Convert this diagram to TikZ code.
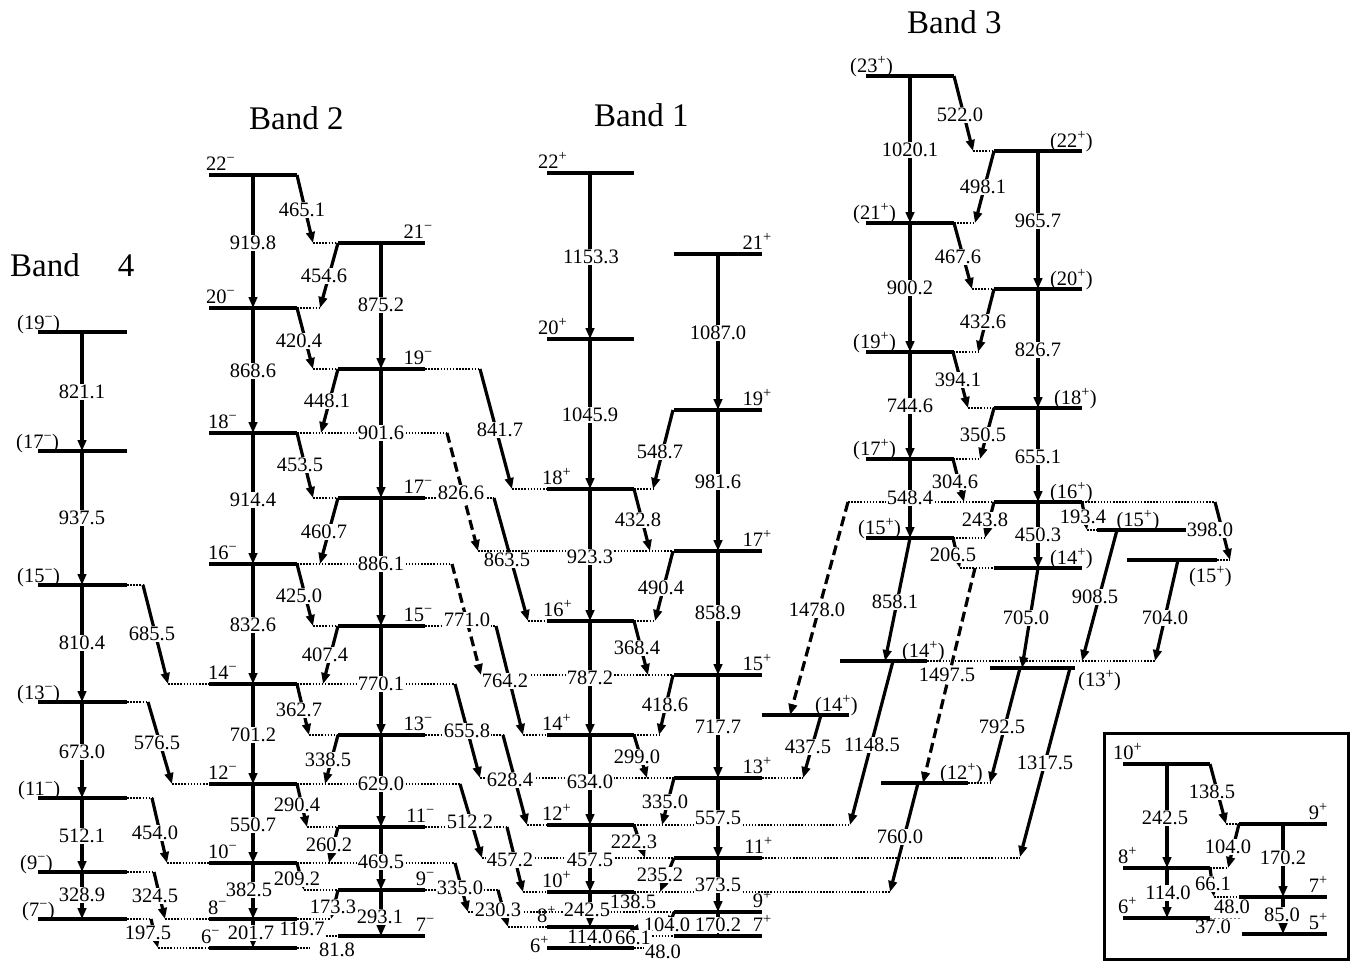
\documentclass[tikz,border=0pt]{standalone}
\usepackage{fontspec}
\setmainfont{Liberation Serif}
\usetikzlibrary{arrows.meta}
\newcommand\spm[1]{#1\textsuperscript{−}}
\newcommand\spp[1]{#1\textsuperscript{+}}
\begin{document}
\begin{tikzpicture}[x=1pt,y=-1pt,
  lev/.style={line width=3.8pt},
  tr/.style={line width=3.2pt,-{Triangle[length=11pt,width=8.5pt]}},
  trd/.style={tr,dash pattern=on 10pt off 5pt},
  seg/.style={line width=3.2pt},
  dot/.style={line width=1.8pt,dash pattern=on 1.5pt off 1.6pt},
  ldot/.style={line width=1pt,gray,dash pattern=on 2pt off 2pt},
  lab/.style={fill=white,inner sep=1pt,font=\fontsize{20.5}{21}\selectfont},
  llab/.style={anchor=base west,inner sep=0pt,font=\fontsize{20.5}{21}\selectfont},
  rlab/.style={anchor=base east,inner sep=0pt,font=\fontsize{20.5}{21}\selectfont},
  clab/.style={anchor=base,inner sep=0pt,font=\fontsize{20.5}{21}\selectfont},
  band/.style={anchor=base west,inner sep=0pt,font=\fontsize{33}{36}\selectfont}]
\useasboundingbox (0,0) rectangle (1352,962);

% ---------------- dotted extensions ----------------
\foreach \a/\b/\y in {127/143/585,168/209/684,127/148/702,172/209/784,127/152/798,167/209/863,
  127/154/872,165/209/919,127/151/919,158/209/948,
  313/338/243,297/320/308,313/338/369,425/480/369,297/447/433,313/338/498,425/494/498,
  297/452/564,313/338/626,425/496/626,297/455/684,309/338/735,425/503/735,
  297/460/784,307/338/827,425/507/827,297/455/863,304/338/890,425/498/890,
  297/331/919,297/310/948,326/337/936,
  512/547/489,634/653/489,478/673/551,528/547/621,634/655/621,481/673/675,
  523/547/735,634/659/735,480/674/778,762/803/778,527/547/825,634/850/825,
  482/674/858,762/1020/858,523/547/892,634/890/892,468/674/912,508/547/927,
  640/673/936,634/672/948,
  973/994/151,954/975/223,972/994/289,953/978/352,968/994/408,953/980/459,
  848/994/502,1082/1215/502,953/985/538,960/994/568,1087/1097/530,1217/1230/560,
  927/1155/661,968/990/783,
  1226/1239/824,1210/1228/868,1214/1239/897}
  \draw[dot] (\a,\y) -- (\b,\y);
\draw[ldot] (1210,918) -- (1242,918);

% ---------------- levels ----------------
\foreach \y in {332,451,585,702,798,872,919} \draw[lev] (38,\y) -- (127,\y);
\foreach \y in {175,308,433,564,684,784,863,919,948} \draw[lev] (209,\y) -- (297,\y);
\foreach \y in {243,369,498,626,735,827,890,936} \draw[lev] (338,\y) -- (425,\y);
\foreach \y in {173,339,489,621,735,825,892,927,948} \draw[lev] (547,\y) -- (634,\y);
\foreach \y in {254,410,551,675,778,858,912,936} \draw[lev] (674,\y) -- (762,\y);
\foreach \y in {76,223,352,459,538} \draw[lev] (866,\y) -- (954,\y);
\foreach \y in {151,289,408,502,568} \draw[lev] (994,\y) -- (1082,\y);
\draw[lev] (1097,530) -- (1187,530);
\draw[lev] (1127,560) -- (1217,560);
\draw[lev] (840,661) -- (927,661);
\draw[lev] (990,668) -- (1075,668);
\draw[lev] (762,715) -- (849,715);
\draw[lev] (881,783) -- (968,783);
% inset
\draw[line width=3pt] (1104,733) rectangle (1348,959);
\foreach \y in {764,868,918} \draw[lev] (1123,\y) -- (1210,\y);
\foreach \y in {824,897} \draw[lev] (1239,\y) -- (1327,\y);
\draw[lev] (1242,934) -- (1327,934);

% ---------------- vertical transitions ----------------
\foreach \a/\b in {332/451,451/585,585/702,702/798,798/872,872/919} \draw[tr] (82,\a) -- (82,\b);
\foreach \a/\b in {175/308,308/433,433/564,564/684,684/784,784/863,863/919,919/948} \draw[tr] (253,\a) -- (253,\b);
\foreach \a/\b in {243/369,369/498,498/626,626/735,735/827,827/890,890/936} \draw[tr] (381,\a) -- (381,\b);
\foreach \a/\b in {173/339,339/489,489/621,621/735,735/825,825/892,892/927,927/948} \draw[tr] (590,\a) -- (590,\b);
\foreach \a/\b in {254/410,410/551,551/675,675/778,778/858,858/912,912/936} \draw[tr] (718,\a) -- (718,\b);
\foreach \a/\b in {76/223,223/352,352/459,459/538} \draw[tr] (910,\a) -- (910,\b);
\foreach \a/\b in {151/289,289/408,408/502,502/568} \draw[tr] (1038,\a) -- (1038,\b);
\draw[tr] (1167,764) -- (1167,868);
\draw[tr] (1167,868) -- (1167,918);
\draw[tr] (1283,824) -- (1283,897);
\draw[tr] (1283,897) -- (1283,934);

% ---------------- slanted transitions ----------------
\foreach \xa/\ya/\xb/\yb in {
  143/585/168/684, 148/702/172/784, 152/798/167/863, 154/872/165/919, 151/919/158/948,
  297/175/313/243, 338/243/320/308, 297/308/313/369, 338/369/321/433, 297/433/313/498,
  338/498/320/564, 297/564/313/626, 338/626/323/684, 297/684/309/735, 338/735/325/784,
  297/784/307/827, 338/827/329/863, 297/863/304/890, 338/890/331/919,
  480/369/512/489, 494/498/528/621, 496/626/523/735, 455/684/480/778, 503/735/527/825,
  460/784/482/858, 507/827/523/892, 455/863/468/912, 498/890/508/927,
  673/410/653/489, 634/489/650/551, 673/551/655/621, 634/621/648/675, 673/675/659/735,
  634/735/647/778, 674/778/662/825, 634/825/645/858, 674/858/660/892, 634/892/640/912,
  674/912/669/927, 634/927/640/936,
  954/76/973/151, 994/151/975/223, 954/223/972/289, 994/289/978/352, 953/352/968/408,
  994/408/980/459, 953/459/964/502, 994/502/985/538, 953/538/960/568, 1082/502/1087/530,
  1215/502/1230/560,
  821/715/803/778, 910/538/885/661, 893/661/850/825, 1038/568/1022/668, 1117/530/1082/661,
  1178/560/1155/661, 1020/668/990/783, 1070/668/1020/857, 918/783/890/892,
  1210/764/1226/824, 1239/824/1228/868, 1210/868/1214/897}
  \draw[tr] (\xa,\ya) -- (\xb,\yb);
\draw[trd] (447,433) -- (478,551);
\draw[trd] (452,564) -- (481,675);
\draw[trd] (848,502) -- (790,715);
\draw[trd] (975,568) -- (923,783);

% ---------------- transition labels ----------------
\foreach \t/\x/\y in {
  821.1/82/392, 937.5/82/518, 810.4/82/643, 673.0/82/752, 512.1/82/836, 328.9/82/895,
  685.5/152/634, 576.5/157/743, 454.0/155/833, 324.5/155/896, 197.5/148/933,
  919.8/253/243, 868.6/253/371, 914.4/253/500, 832.6/253/625, 701.2/253/735, 550.7/253/825,
  382.5/249/890, 201.7/251/933,
  875.2/381/305, 901.6/381/433, 886.1/381/564, 770.1/381/684, 629.0/381/784, 469.5/381/862,
  293.1/380/917,
  465.1/302/210, 454.6/324/276, 420.4/299/341, 448.1/327/401, 453.5/300/465, 460.7/324/532,
  425.0/299/596, 407.4/325/655, 362.7/299/710, 338.5/328/760, 290.4/297/805, 260.2/329/845,
  209.2/297/879, 173.3/333/907, 119.7/302/929, 81.8/337/950,
  841.7/500/430, 826.6/461/493, 863.5/507/560, 771.0/467/620, 764.2/505/681, 655.8/467/731,
  628.4/510/780, 512.2/470/822, 457.2/510/860, 335.0/460/888, 230.3/498/910,
  1153.3/591/257, 1045.9/590/415, 923.3/590/557, 787.2/590/678, 634.0/590/782, 457.5/590/860,
  242.5/587/910, 114.0/590/937,
  1087.0/718/333, 981.6/718/482, 858.9/718/613, 717.7/718/727, 557.5/718/818, 373.5/718/885,
  170.2/718/925,
  548.7/660/452, 432.8/638/520, 490.4/661/588, 368.4/637/648, 418.6/665/705, 299.0/637/757,
  335.0/665/802, 222.3/634/842, 235.2/660/875, 138.5/633/902, 104.0/667/925, 66.1/633/938,
  48.0/663/952,
  1020.1/910/150, 900.2/910/288, 744.6/910/406, 548.4/910/498,
  965.7/1038/221, 826.7/1038/350, 655.1/1038/457, 450.3/1038/535,
  522.0/960/115, 498.1/983/187, 467.6/958/257, 432.6/983/322, 394.1/958/380, 350.5/983/435,
  304.6/955/482, 243.8/985/520, 206.5/953/555, 193.4/1083/517, 398.0/1210/530,
  1478.0/817/610, 858.1/895/602, 705.0/1026/618, 908.5/1095/597, 704.0/1165/618,
  1497.5/947/675, 437.5/808/747, 1148.5/872/745, 792.5/1002/727, 1317.5/1045/763, 760.0/900/837,
  242.5/1165/818, 138.5/1212/792, 104.0/1228/847, 170.2/1283/858, 114.0/1168/893,
  66.1/1213/884, 85.0/1282/915}
  \node[lab] at (\x,\y) {\t};
\node[lab,fill=none] (i480) at (1232,907) {48.0};
\node[lab,fill=none] (i370) at (1213,927) {37.0};

% ---------------- level labels ----------------
\foreach \t/\x/\y in {19/17/329, 17/16/448, 15/17/582, 13/17/699, 11/18/795, 9/20/869, 7/22/916}
  \node[llab] at (\x,\y) {(\spm{\t})};
\foreach \t/\x/\y in {22/206/170, 20/206/303, 18/208/428, 16/208/559, 14/208/679, 12/208/779,
  10/208/858, 8/208/914, 6/201/943}
  \node[llab] at (\x,\y) {\spm{\t}};
\foreach \t/\x/\y in {21/433/238, 19/433/364, 17/433/493, 15/433/621, 13/433/730, 11/435/822,
  9/435/885, 7/435/931}
  \node[rlab] at (\x,\y) {\spm{\t}};
\foreach \t/\x/\y in {22/538/168, 20/538/334, 18/542/484, 16/543/616, 14/542/730, 12/542/820,
  10/542/887, 8/537/922, 6/530/952}
  \node[llab] at (\x,\y) {\spp{\t}};
\foreach \t/\x/\y in {21/772/249, 19/772/405, 17/772/546, 15/772/670, 13/772/773, 11/773/853,
  9/772/907, 7/772/931}
  \node[rlab] at (\x,\y) {\spp{\t}};
\foreach \t/\x/\y in {23/850/72, 21/853/219, 19/853/348, 17/853/455, 15/858/534}
  \node[llab] at (\x,\y) {(\spp{\t})};
\foreach \t/\x/\y in {22/1093/147, 20/1093/285, 18/1097/404, 16/1093/498, 14/1093/564,
  14/945/657, 14/858/711, 12/983/779, 15/1232/582}
  \node[rlab] at (\x,\y) {(\spp{\t})};
\node[clab] at (1138,526) {(\spp{15})};
\node[llab] at (1078,686) {(\spp{13})};
% inset labels
\foreach \t/\x/\y in {10/1113/759, 8/1118/863, 6/1118/913}
  \node[llab] at (\x,\y) {\spp{\t}};
\foreach \t/\x/\y in {9/1328/819, 7/1328/892, 5/1328/929}
  \node[rlab] at (\x,\y) {\spp{\t}};

% ---------------- band titles ----------------
\node[band] (b1) at (594,126) {Band 1};
\node[band] (b2) at (249,129) {Band 2};
\node[band] (b3) at (907,33) {Band 3};
\node[band] (b4) at (10,276) {Band\hspace{38pt}4};
\end{tikzpicture}
\end{document}
